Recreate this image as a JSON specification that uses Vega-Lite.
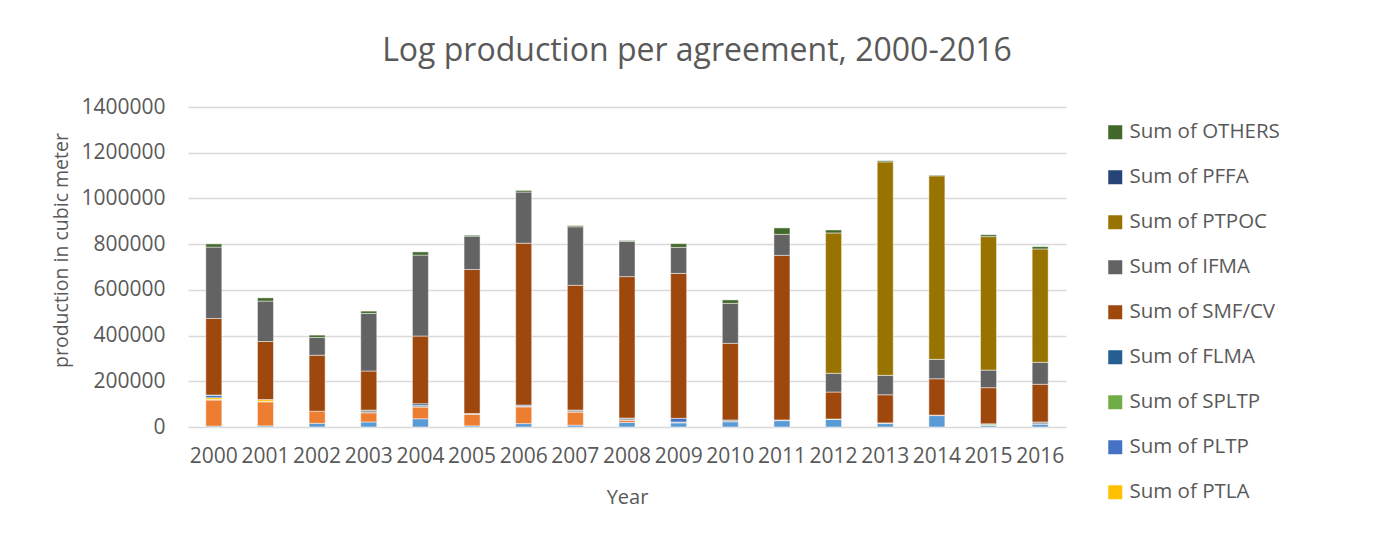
{
  "$schema": "https://vega.github.io/schema/vega-lite/v6.json",
  "autosize": "none",
  "width": 878,
  "height": 320,
  "padding": {"left": 188, "top": 107, "right": 320, "bottom": 114},
  "background": "white",
  "config": {"view": {"stroke": null}},
  "title": {
    "text": "Log production per agreement, 2000-2016",
    "font": "Open Sans",
    "fontSize": 32,
    "fontWeight": "normal",
    "color": "#595959",
    "anchor": "middle",
    "dx": 70,
    "offset": 28
  },
  "data": {
    "values": [
      {"year": "2000", "CBFMA": 4000, "TLA": 114000, "SIFMA": 2000, "PTLA": 8000, "PLTP": 10000, "FLMA": 2000, "SMF/CV": 335000, "IFMA": 312000, "OTHERS": 14000},
      {"year": "2001", "CBFMA": 5000, "TLA": 105000, "SIFMA": 2000, "PTLA": 8000, "SMF/CV": 254000, "IFMA": 177000, "OTHERS": 14000},
      {"year": "2002", "CBFMA": 16000, "TLA": 53000, "SMF/CV": 245000, "IFMA": 78000, "OTHERS": 10000},
      {"year": "2003", "CBFMA": 22000, "TLA": 40000, "SIFMA": 12000, "SMF/CV": 171000, "IFMA": 252000, "OTHERS": 10000},
      {"year": "2004", "CBFMA": 36000, "TLA": 51000, "SIFMA": 8000, "FLMA": 7000, "SMF/CV": 296000, "IFMA": 354000, "OTHERS": 14000},
      {"year": "2005", "CBFMA": 5000, "TLA": 50000, "SIFMA": 4000, "SMF/CV": 630000, "IFMA": 146000, "OTHERS": 4000},
      {"year": "2006", "CBFMA": 15000, "TLA": 73000, "SIFMA": 4000, "PLTP": 4000, "SMF/CV": 708000, "IFMA": 224000, "OTHERS": 7000},
      {"year": "2007", "CBFMA": 8000, "TLA": 57000, "SIFMA": 9000, "SMF/CV": 546000, "IFMA": 256000, "OTHERS": 5000},
      {"year": "2008", "CBFMA": 20000, "TLA": 9000, "SIFMA": 10000, "SMF/CV": 619000, "IFMA": 154000, "OTHERS": 4000},
      {"year": "2009", "CBFMA": 18000, "SIFMA": 4000, "PLTP": 16000, "SMF/CV": 634000, "IFMA": 114000, "OTHERS": 16000},
      {"year": "2010", "CBFMA": 23000, "SIFMA": 8000, "SMF/CV": 335000, "IFMA": 175000, "OTHERS": 15000},
      {"year": "2011", "CBFMA": 28000, "SIFMA": 3000, "SMF/CV": 720000, "IFMA": 92000, "OTHERS": 28000},
      {"year": "2012", "CBFMA": 33000, "SIFMA": 2000, "SMF/CV": 118000, "IFMA": 82000, "PTPOC": 614000, "OTHERS": 13000},
      {"year": "2013", "CBFMA": 15000, "SIFMA": 3000, "SMF/CV": 123000, "IFMA": 85000, "PTPOC": 934000, "OTHERS": 5000},
      {"year": "2014", "CBFMA": 50000, "TLA": 2000, "SMF/CV": 159000, "IFMA": 85000, "PTPOC": 803000, "OTHERS": 3000},
      {"year": "2015", "CBFMA": 6000, "SIFMA": 4000, "SPLTP": 4000, "SMF/CV": 158000, "IFMA": 77000, "PTPOC": 584000, "OTHERS": 8000},
      {"year": "2016", "CBFMA": 12000, "SIFMA": 10000, "SMF/CV": 165000, "IFMA": 96000, "PTPOC": 496000, "OTHERS": 10000}
    ]
  },
  "transform": [
    {"fold": ["CBFMA", "TLA", "SIFMA", "PTLA", "PLTP", "SPLTP", "FLMA", "SMF/CV", "IFMA", "PTPOC", "PFFA", "OTHERS"], "as": ["agreement", "volume"]},
    {"filter": "datum.volume > 0"},
    {"calculate": "indexof(['CBFMA', 'TLA', 'SIFMA', 'PTLA', 'PLTP', 'SPLTP', 'FLMA', 'SMF/CV', 'IFMA', 'PTPOC', 'PFFA', 'OTHERS'], datum.agreement)", "as": "stackOrder"}
  ],
  "mark": {"type": "bar", "stroke": "white", "strokeWidth": 0.8, "strokeOpacity": 0.6},
  "encoding": {
    "x": {
      "field": "year",
      "type": "ordinal",
      "scale": {"paddingInner": 0.69, "paddingOuter": 0.345},
      "axis": {
        "title": "Year",
        "labelAngle": 0,
        "ticks": false,
        "domain": false,
        "labelFont": "Open Sans",
        "labelFontSize": 21,
        "labelColor": "#595959",
        "labelPadding": 18,
        "titleFont": "Open Sans",
        "titleFontSize": 20,
        "titleFontWeight": "normal",
        "titleColor": "#595959",
        "titlePadding": 21
      }
    },
    "y": {
      "field": "volume",
      "type": "quantitative",
      "stack": "zero",
      "scale": {"domain": [0, 1400000], "nice": false},
      "axis": {
        "title": "production in cubic meter",
        "values": [0, 200000, 400000, 600000, 800000, 1000000, 1200000, 1400000],
        "format": "d",
        "ticks": false,
        "domain": false,
        "gridColor": "#d9d9d9",
        "gridWidth": 1.4,
        "labelFont": "Open Sans",
        "labelFontSize": 21,
        "labelColor": "#595959",
        "labelPadding": 23,
        "titleFont": "Open Sans",
        "titleFontSize": 19.5,
        "titleFontWeight": "normal",
        "titleColor": "#595959",
        "titlePadding": 9,
        "titleY": 143
      }
    },
    "order": {"field": "stackOrder", "type": "quantitative", "sort": "ascending"},
    "color": {
      "field": "agreement",
      "type": "nominal",
      "scale": {
        "domain": ["CBFMA", "TLA", "SIFMA", "PTLA", "PLTP", "SPLTP", "FLMA", "SMF/CV", "IFMA", "PTPOC", "PFFA", "OTHERS"],
        "range": ["#5B9BD5", "#ED7D31", "#A5A5A5", "#FFC000", "#4472C4", "#70AD47", "#255E91", "#9E480E", "#636363", "#997300", "#264478", "#43682B"]
      },
      "legend": {
        "title": null,
        "orient": "none",
        "legendX": 917,
        "legendY": 15,
        "values": ["OTHERS", "PFFA", "PTPOC", "IFMA", "SMF/CV", "FLMA", "SPLTP", "PLTP", "PTLA"],
        "labelExpr": "'Sum of ' + datum.label",
        "symbolType": "square",
        "symbolSize": 196,
        "symbolStrokeWidth": 0,
        "labelFont": "Open Sans",
        "labelFontSize": 20.5,
        "labelColor": "#595959",
        "labelOffset": 4,
        "rowPadding": 24,
        "labelLimit": 300
      }
    }
  }
}
